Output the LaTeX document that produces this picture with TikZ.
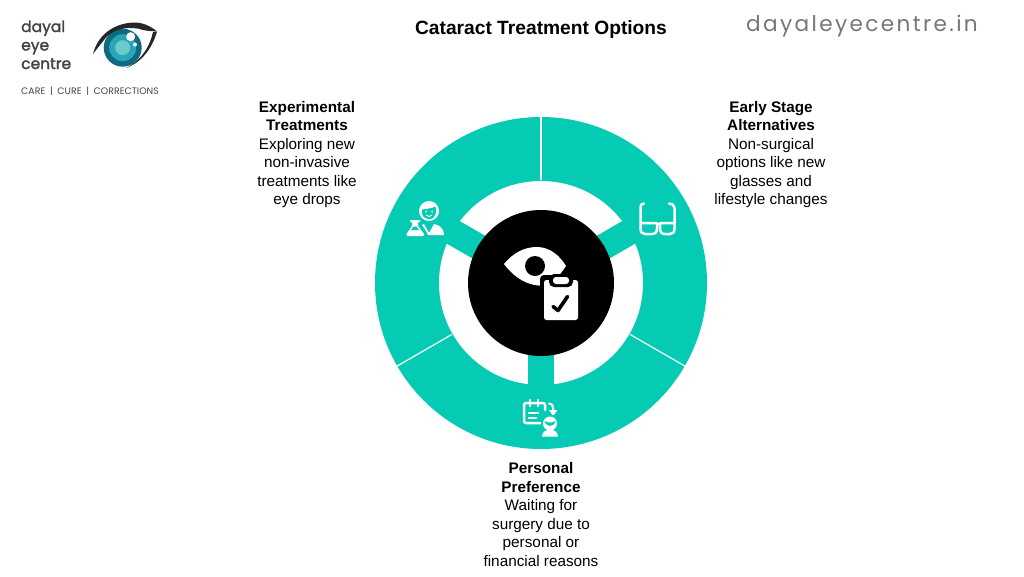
\documentclass[tikz,border=0pt]{standalone}
\usepackage{fontspec}
\setmainfont{Liberation Sans}
\newfontfamily\logofont[BoldFont=*,BoldFeatures={FakeBold=1.8}]{Poppins}
\newfontfamily\webfont[LetterSpace=11]{Poppins}
\definecolor{tealmain}{HTML}{05CBB4}
\definecolor{logogrey}{HTML}{444444}
\definecolor{webgrey}{HTML}{777777}
\definecolor{irisdark}{HTML}{0E6A82}
\definecolor{irismid}{HTML}{2AA5B5}
\definecolor{irislight}{HTML}{6CCACD}
\tikzset{
  label text/.style={align=center,inner sep=0pt,font=\fontsize{15.3}{18.5}\selectfont},
  logo word/.style={anchor=base west,inner sep=0pt,text=logogrey,font=\logofont\bfseries\fontsize{15.5}{15.5}\selectfont},
  icon line/.style={draw=white,line width=2.5pt,line cap=round,line join=round},
  tab/.style={fill=tealmain},
  sep/.style={draw=white,line width=1.2pt}
}
\begin{document}
\begin{tikzpicture}[x=1pt,y=-1pt]
\useasboundingbox (0,0) rectangle (1024,576);
\fill[white] (0,0) rectangle (1024,576);
% ring
\fill[tealmain] (541,283) circle [radius=166];
\fill[white] (541,283) circle [radius=102];
\foreach \a in {30,150,270}
  \fill[tab,shift={(541,283)},rotate=\a] (60,-13) rectangle (106,13);
\foreach \a in {90,210,330}
  \draw[sep,shift={(541,283)},rotate=\a] (103,0) -- (167,0);
\fill[black] (541,283) circle [radius=73];
% centre icon: eye
\fill[white] (504,264) .. controls (514,252) and (525,247) .. (537,247)
  .. controls (550,247) and (560,256) .. (566,266)
  .. controls (562,272) and (556,280) .. (548,285)
  .. controls (532,288) and (516,280) .. (504,264) -- cycle;
\fill[black] (535,266) circle [radius=10];
% clipboard
\fill[black,rounded corners=4pt] (540,275) rectangle (582,324);
\fill[white,rounded corners=2.5pt] (544,280) rectangle (578,320);
\fill[black,rounded corners=5pt] (549,274) rectangle (573,287);
\fill[white,rounded corners=3pt] (553,277) rectangle (569,284);
\draw[black,line width=3.6pt,line cap=round,line join=round] (553,306.5) -- (558,310.5) -- (567.5,296.5);
% glasses
\draw[icon line] (644,203.5) .. controls (641,203.5) and (640.5,205) .. (640.5,208) -- (640.5,228)
  .. controls (640.5,232) and (642,234) .. (645,234) -- (652,234)
  .. controls (655.5,234) and (657,232) .. (657,228) -- (657,223) -- (640.5,223);
\draw[icon line] (669,203.5) .. controls (672,203.5) and (674.5,205) .. (674.5,208) -- (674.5,228)
  .. controls (674.5,232) and (673,234) .. (670,234) -- (665,234)
  .. controls (661.5,234) and (660,232) .. (660,228) -- (660,223) -- (674.5,223);
\draw[icon line,line width=2pt] (657,223.5) -- (660,223.5);
% scientist
\fill[white] (429,211) circle [radius=10];
\fill[tealmain] (422,209.5) .. controls (427,209) and (433,208) .. (435.5,206.5)
  .. controls (437,212) and (436,219) .. (429,219)
  .. controls (423,219) and (421,214) .. (422,209.5) -- cycle;
\fill[white] (426,211.5) circle [radius=1];
\fill[white] (432,211.5) circle [radius=1];
\draw[white,line width=0.9pt] (426,215) .. controls (428,217) and (430,217) .. (432,215);
\fill[white] (424,224) -- (429,233) -- (434,224)
  .. controls (440,225) and (444,229) .. (444,235) -- (428,235) -- (426,231) -- (422,225) -- cycle;
\fill[white] (410,220) -- (420,220) -- (420,222) -- (418,222) -- (418,226) -- (424,234)
  .. controls (424.5,235) and (424,236) .. (422.5,236) -- (408,236)
  .. controls (406.5,236) and (406,235) .. (406.5,234) -- (412,226) -- (412,222) -- (410,222) -- cycle;
\fill[tealmain] (413.7,226.5) -- (416.3,226.5) -- (419,230) -- (411,230) -- cycle;
% calendar + person
\draw[icon line,rounded corners=2pt] (545,410) -- (545,403) -- (524,403) -- (524,423) -- (541,423);
\draw[icon line] (530,400) -- (530,406) (538,400) -- (538,406);
\draw[icon line] (529,413) -- (538,413) (529,418) -- (536,418);
\draw[icon line,line width=2pt] (549,403.5) .. controls (552,403.5) and (553,405) .. (553,408) -- (553,413);
\fill[white] (549,410) -- (557.5,410) -- (553,416) -- cycle;
\fill[tealmain] (550,423.5) circle [radius=9];
\fill[white] (550,423.5) circle [radius=7];
\fill[tealmain] (544.5,421) .. controls (547,423) and (553,423) .. (555.5,421)
  .. controls (554,427.5) and (546,427.5) .. (544.5,421) -- cycle;
\fill[white] (542,436.5) .. controls (542,432) and (546,429.5) .. (550,429.5)
  .. controls (554,429.5) and (558,432) .. (558,436.5) -- cycle;
% logo eye
\fill[irisdark] (122.7,47.7) circle [radius=19];
\fill[irismid] (122.7,47.7) circle [radius=13.5];
\fill[irislight] (122.7,47.7) circle [radius=7.5];
\fill[white] (130.7,36.7) circle [radius=4.5];
\fill[white] (135,44.5) circle [radius=2];
\fill[black!85] (93,54) .. controls (97,38) and (110,24) .. (133,22.5)
  .. controls (143,22) and (152,27) .. (157,31.5)
  .. controls (152,31) and (147,31) .. (143,30)
  .. controls (132,26) and (113,27) .. (104,40)
  .. controls (100,45) and (96,50) .. (93,54) -- cycle;
\fill[black!85] (157,31.5) .. controls (153,46) and (143,62) .. (126,68)
  .. controls (142,60) and (150,46) .. (153,32) -- cycle;
% logo text
\node[logo word] (logoa) at (21,32) {dayal};
\node[logo word] (logob) at (21,50.5) {eye};
\node[logo word] (logoc) at (21,69) {centre};
\node[anchor=base west,inner sep=0pt,text=logogrey,font=\logofont\fontsize{9.4}{10}\selectfont] (tag) at (21,94) {CARE\,\,\,|\,\,\,CURE\,\,\,|\,\,\,CORRECTIONS};
% titles
\node[inner sep=0pt,font=\bfseries\fontsize{19.2}{20}\selectfont] (title) at (541,30) {Cataract Treatment Options};
\node[inner sep=0pt,text=webgrey,font=\webfont\fontsize{21.6}{24}\selectfont] (web) at (862,26) {dayaleyecentre.in};
% labels
\node[label text] (early) at (771,154.5) {\textbf{Early Stage}\\\textbf{Alternatives}\\Non-surgical\\options like new\\glasses and\\lifestyle changes};
\node[label text] (exper) at (307,154.5) {\textbf{Experimental}\\\textbf{Treatments}\\Exploring new\\non-invasive\\treatments like\\eye drops};
\node[label text] (pers) at (541,514.5) {\textbf{Personal}\\\textbf{Preference}\\Waiting for\\surgery due to\\personal or\\financial reasons};
\end{tikzpicture}
\end{document}
